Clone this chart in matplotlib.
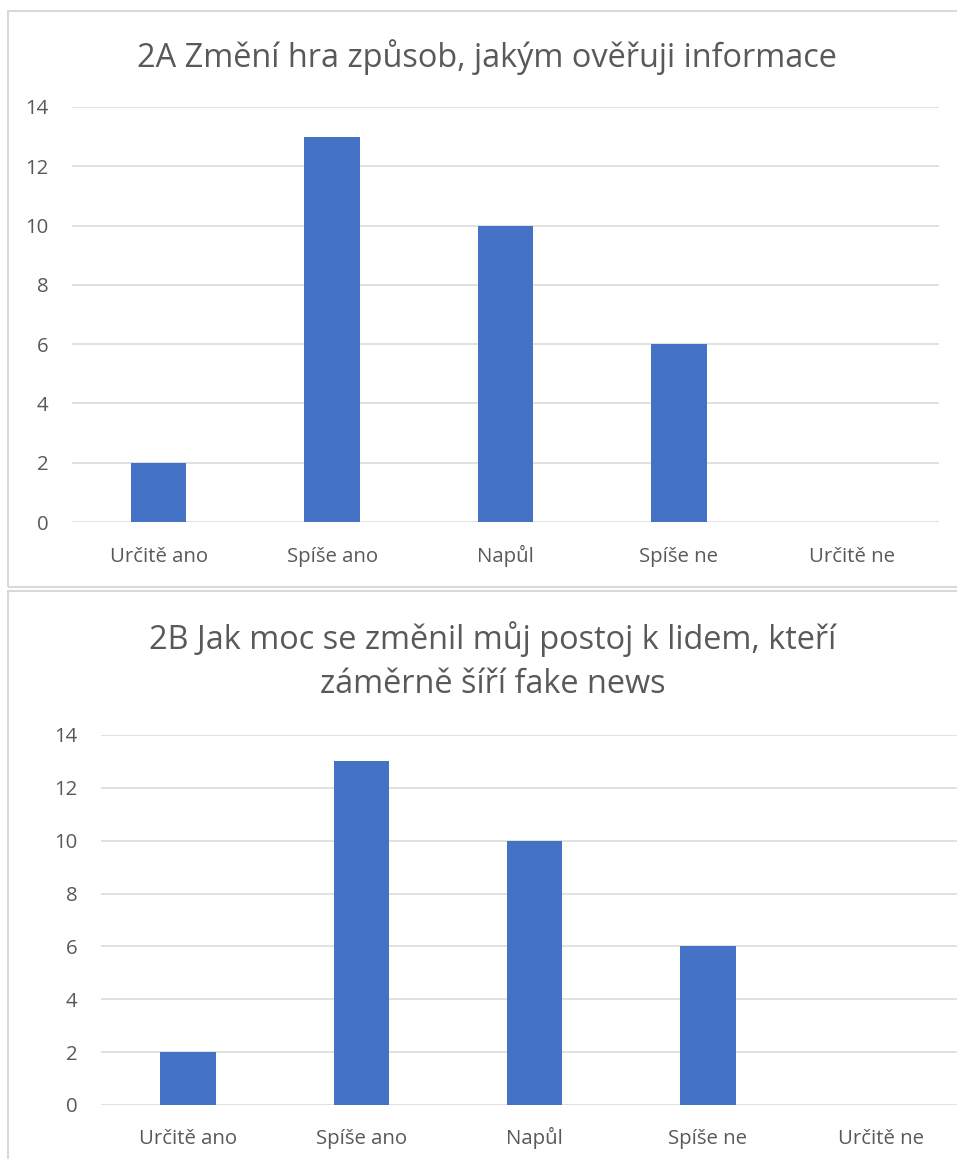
import matplotlib
matplotlib.use("Agg")
import matplotlib.pyplot as plt
from matplotlib.patches import Rectangle

W, H = 957, 1159

categories = ["Určitě ano", "Spíše ano", "Napůl", "Spíše ne", "Určitě ne"]
values_2a = [2, 13, 10, 6, 0]
values_2b = [2, 13, 10, 6, 0]
yticks = [0, 2, 4, 6, 8, 10, 12, 14]

title_2a = ["2A Změní hra způsob, jakým ověřuji informace"]
title_2b = ["2B Jak moc se změnil můj postoj k lidem, kteří", "záměrně šíří fake news"]

BAR = "#4472C4"
GRID = "#d9d9d9"
TEXT = "#595959"

plt.rcParams["font.family"] = ["Open Sans", "DejaVu Sans"]

fig = plt.figure(figsize=(W / 100, H / 100), dpi=100)
fig.patch.set_facecolor("white")


def px_axes(x0, x1, y_top, y_bottom):
    # pixel box (top-left origin) -> figure fraction axes
    return fig.add_axes([x0 / W, (H - y_bottom) / H, (x1 - x0) / W, (y_bottom - y_top) / H])


def frame(x0, y0, x1, y1):
    fig.patches.append(Rectangle((x0 / W, (H - y1) / H), (x1 - x0) / W, (y1 - y0) / H,
                                 transform=fig.transFigure, fill=False,
                                 edgecolor=GRID, linewidth=1.5))


def title(lines, xc, baseline, step=44):
    for i, line in enumerate(lines):
        fig.text(xc / W, 1 - (baseline + i * step) / H, line, ha="center",
                 va="baseline", fontsize=23.4, color=TEXT)


def bar_chart(ax, values, xpad):
    x = list(range(len(categories)))
    ax.bar(x, values, width=0.32, color=BAR, zorder=3)
    ax.set_xlim(-0.5, len(categories) - 0.5)
    ax.set_ylim(0, 14)
    ax.set_yticks(yticks)
    ax.set_xticks(x)
    ax.set_xticklabels(categories)
    for s in ax.spines.values():
        s.set_visible(False)
    ax.grid(axis="y", color=GRID, linewidth=1.1, zorder=0)
    ax.tick_params(axis="both", length=0, labelsize=14.7, labelcolor=TEXT)
    ax.tick_params(axis="y", pad=17)
    ax.tick_params(axis="x", pad=xpad)
    # line the category names up on a common baseline
    for lbl in ax.get_xticklabels():
        lbl.set_verticalalignment("baseline")
    ax.set_facecolor("none")


frame(8, 11, 990, 587)
frame(8, 591, 990, 1200)

ax1 = px_axes(72, 939, 107, 522)
bar_chart(ax1, values_2a, 28.5)
title(title_2a, 487, 67)

ax2 = px_axes(101.3, 968, 735, 1105)
bar_chart(ax2, values_2b, 28)
title(title_2b, 493, 649)

fig.savefig("out.png", dpi=100)
